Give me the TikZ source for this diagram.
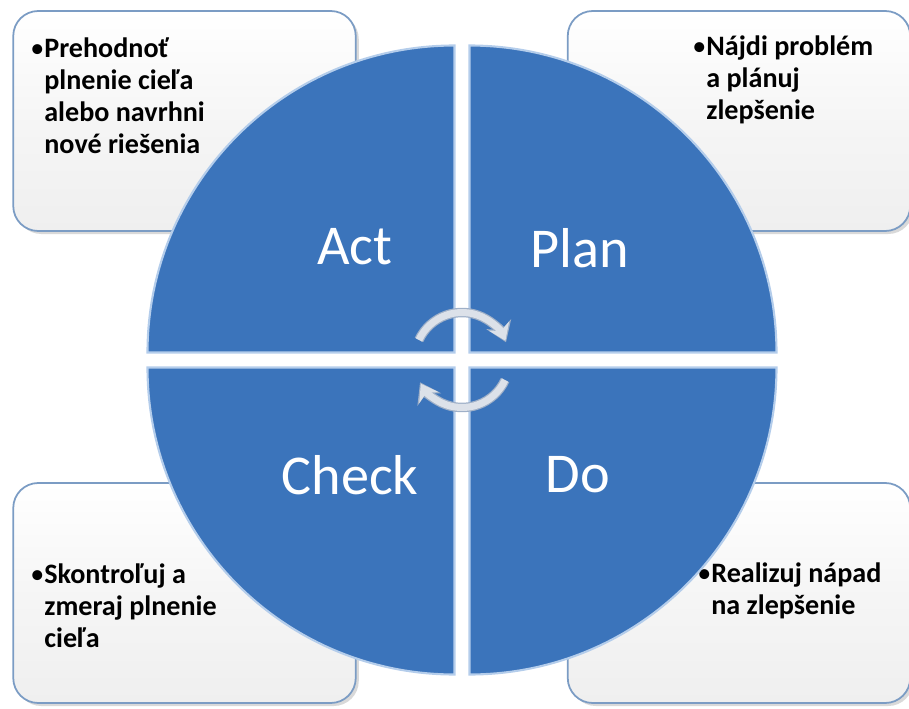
\documentclass[tikz,border=0pt]{standalone}
\usepackage{fontspec}
\setmainfont{Carlito}
\usepackage{xcolor}
\usepackage{tikz}
\usetikzlibrary{shadows,arrows.meta}
\definecolor{quadblue}{HTML}{3B74BB}
\definecolor{quadedge}{HTML}{B4CDEB}
\definecolor{boxedge}{HTML}{7B9CC4}
\definecolor{boxfill}{HTML}{EFEFEF}
\definecolor{cycgray}{HTML}{DCE1E9}
\definecolor{cycedge}{HTML}{9FB0C8}
\newcommand{\bul}{{\mdseries\textbullet}}
\newcommand{\ind}{\hphantom{\bul}}
\tikzset{
  notebox/.style={draw=boxedge, line width=1pt, rounded corners=0.5cm,
    top color=white, bottom color=boxfill, middle color=boxfill!60!white,
    inner sep=0pt, minimum width=6.85cm, minimum height=4.4cm,
    drop shadow={opacity=0.3, shadow xshift=0.06cm, shadow yshift=-0.06cm}},
  notetext/.style={anchor=north west, align=left, inner sep=0pt,
    font=\fontsize{16}{18.2}\selectfont\bfseries},
  quad/.style={fill=quadblue, draw=quadedge, line width=1.2pt},
  quadlabel/.style={text=white, font=\fontsize{32}{38}\selectfont},
  cycback/.style={draw=cycedge, line width=5.4pt, -{Stealth[length=11pt,width=15pt]}},
  cycarrow/.style={draw=cycgray, line width=4pt, -{Stealth[length=9pt,width=12.5pt]}}
}

\begin{document}
\begin{tikzpicture}
\useasboundingbox (0,0) rectangle (18.18,14.16);

\node[notebox] (actbox) at (3.69,11.74) {};
\node[notebox] (planbox) at (14.78,11.74) {};
\node[notebox] (checkbox) at (3.69,2.3) {};
\node[notebox] (dobox) at (14.78,2.3) {};

\node[notetext] (acttext) at (0.6,13.41) {\bul Prehodnoť\\\ind plnenie cieľa\\\ind alebo navrhni\\\ind nové riešenia};
\node[notetext] (plantext) at (13.84,13.45) {\bul Nájdi problém\\\ind a plánuj\\\ind zlepšenie};
\node[notetext] (checktext) at (0.6,2.89) {\bul Skontroľuj a\\\ind zmeraj plnenie\\\ind cieľa};
\node[notetext] (dotext) at (13.94,2.91) {\bul Realizuj nápad\\\ind na zlepšenie};

\coordinate (hub) at (9.24,6.96);
\draw[quad] ([shift={(0.15,0.15)}]hub) -- ++(0:6.14) arc (0:90:6.14) -- cycle;
\draw[quad] ([shift={(-0.15,0.15)}]hub) -- ++(90:6.14) arc (90:180:6.14) -- cycle;
\draw[quad] ([shift={(-0.15,-0.15)}]hub) -- ++(180:6.14) arc (180:270:6.14) -- cycle;
\draw[quad] ([shift={(0.15,-0.15)}]hub) -- ++(270:6.14) arc (270:360:6.14) -- cycle;

\node[quadlabel] (act) at (7.1,9.22) {Act};
\node[quadlabel] (plan) at (11.6,9.2) {Plan};
\node[quadlabel] (check) at (7.0,4.66) {Check};
\node[quadlabel] (do) at (11.56,4.66) {Do};

\draw[cycback] ([shift={(155:0.95)}]hub) arc (155:22:0.95);
\draw[cycarrow] ([shift={(155:0.95)}]hub) arc (155:24:0.95);
\draw[cycback] ([shift={(-25:0.95)}]hub) arc (-25:-152:0.95);
\draw[cycarrow] ([shift={(-25:0.95)}]hub) arc (-25:-150:0.95);
\end{tikzpicture}
\end{document}
